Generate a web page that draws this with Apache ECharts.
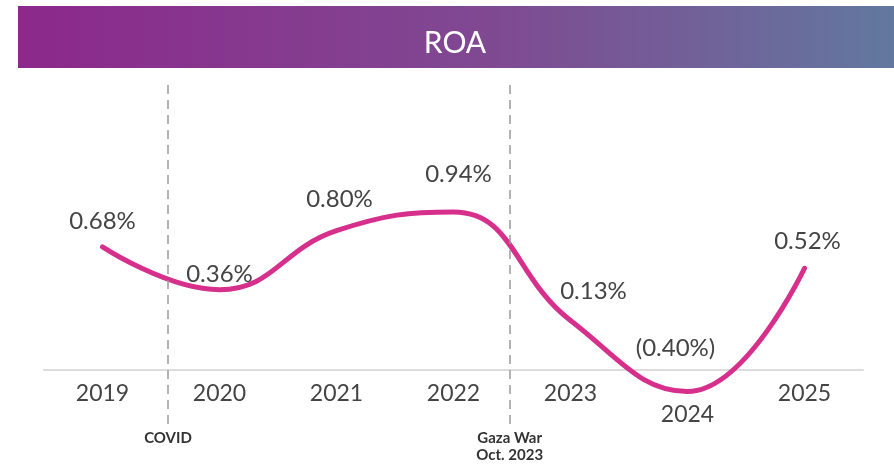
<!DOCTYPE html>
<html>
<head>
<meta charset="utf-8">
<script src="https://cdn.jsdelivr.net/npm/echarts@6/dist/echarts.min.js"></script>
<style>
  html, body { margin: 0; padding: 0; background: #fff; }
  #main { width: 894px; height: 469px; }
</style>
</head>
<body>
<div id="main"></div>
<script>
// 数据
var years = ['2019', '2020', '2021', '2022', '2023', '2024', '2025'];
var roa = [0.68, 0.36, 0.80, 0.94, 0.13, -0.40, 0.52];
// 标签偏移 (dx, dy)
var labelOffsets = [[0, -8], [0, 2], [3, -14], [5, -20], [23, -12], [-12, -26], [3, -9]];
// 事件竖线 (类目索引位置)
var events = [
  { pos: 0.56, text: 'COVID' },
  { pos: 3.48, text: 'Gaza War\nOct. 2023' }
];

var chart = echarts.init(document.getElementById('main'));
var font = 'Lato';

var seriesData = roa.map(function (v, i) {
  return {
    value: v,
    label: { offset: labelOffsets[i] }
  };
});

var option = {
  animation: false,
  textStyle: { fontFamily: font },
  graphic: [{
    type: 'rect',
    left: 18, top: 6,
    shape: { width: 876, height: 62 },
    style: {
      fill: new echarts.graphic.LinearGradient(0, 0, 1, 0, [
        { offset: 0, color: '#8c288b' },
        { offset: 0.55, color: '#7f4a92' },
        { offset: 1, color: '#62789f' }
      ])
    },
    z: 0
  }],
  title: {
    text: 'ROA',
    left: 450, textAlign: 'center',
    top: 23,
    textStyle: { color: '#fff', fontSize: 30, fontWeight: 'normal', fontFamily: font }
  },
  grid: [
    { left: 44, width: 819, top: 212, bottom: 99 },
    { left: 44, width: 819, top: 85, bottom: 44 }
  ],
  xAxis: [{
    type: 'category',
    gridIndex: 0,
    data: years,
    boundaryGap: true,
    axisLine: { onZero: false, lineStyle: { color: '#dcdcdc', width: 2 } },
    axisTick: { show: false },
    axisLabel: {
      interval: 0,
      margin: 12,
      color: '#444',
      fontSize: 23,
      fontFamily: font,
      formatter: function (v) {
        return v === '2024' ? '{low|' + v + '}' : v;
      },
      rich: {
        low: { color: '#444', fontSize: 23, fontFamily: font, padding: [21, 0, 0, 0] }
      }
    }
  }, {
    type: 'value',
    gridIndex: 1,
    min: -0.5, max: 6.5,
    show: false
  }],
  yAxis: [{
    type: 'value',
    gridIndex: 0,
    min: -0.24, max: 0.94,
    show: false
  }, {
    type: 'value',
    gridIndex: 1,
    min: 0, max: 1,
    show: false
  }],
  series: [{
    type: 'line',
    xAxisIndex: 0, yAxisIndex: 0,
    data: seriesData,
    smooth: 0.45,
    clip: false,
    symbol: 'circle',
    symbolSize: 1,
    itemStyle: { color: 'rgba(0,0,0,0)' },
    lineStyle: { color: '#d62f8c', width: 5, cap: 'round' },
    label: {
      show: true,
      position: 'top',
      color: '#444',
      fontSize: 24,
      fontFamily: font,
      formatter: function (p) {
        var v = p.value;
        return v < 0 ? '(' + Math.abs(v).toFixed(2) + '%)' : v.toFixed(2) + '%';
      }
    },
    z: 3
  }, {
    type: 'line',
    xAxisIndex: 1, yAxisIndex: 1,
    data: [],
    markLine: {
      silent: true,
      symbol: 'none',
      lineStyle: { color: '#9a9a9a', type: [9, 6], width: 1.5 },
      label: {
        position: 'end',
        distance: 5,
        color: '#333',
        fontSize: 15,
        fontWeight: 'bold',
        fontFamily: font,
        lineHeight: 17,
        align: 'center'
      },
      data: events.map(function (e) {
        return [
          { coord: [e.pos, 1] },
          { coord: [e.pos, 0], label: { formatter: e.text } }
        ];
      })
    },
    z: 1
  }]
};

chart.setOption(option);
</script>
</body>
</html>
